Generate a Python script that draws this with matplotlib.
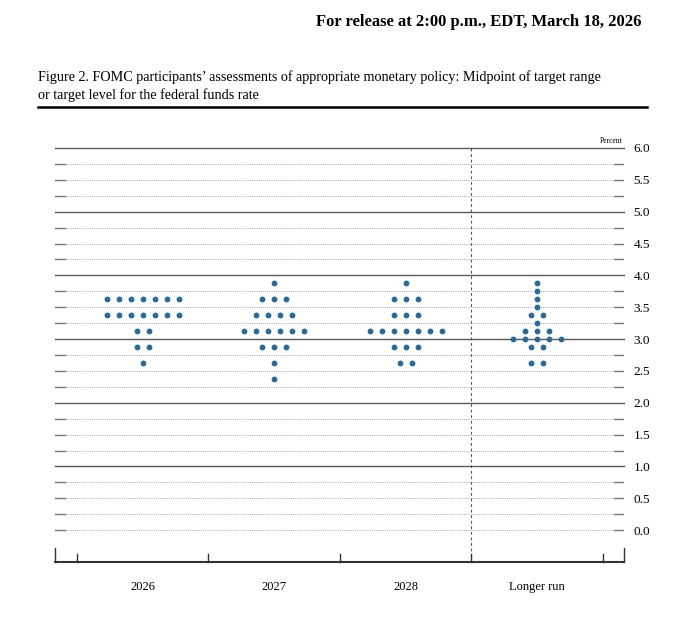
import matplotlib

matplotlib.use("Agg")
import matplotlib.pyplot as plt
import numpy as np

CATEGORIES = ["2026", "2027", "2028", "Longer run"]
# midpoint levels and number of participants at each level
LEVELS_2026 = [3.625, 3.375, 3.125, 2.875, 2.625]
COUNTS_2026 = [7, 7, 2, 2, 1]
LEVELS_2027 = [3.875, 3.625, 3.375, 3.125, 2.875, 2.625, 2.375]
COUNTS_2027 = [1, 3, 4, 6, 3, 1, 1]
LEVELS_2028 = [3.875, 3.625, 3.375, 3.125, 2.875, 2.625]
COUNTS_2028 = [1, 3, 3, 7, 3, 2]
LEVELS_LR = [3.875, 3.75, 3.625, 3.5, 3.375, 3.25, 3.125, 3.0, 2.875, 2.625]
COUNTS_LR = [1, 1, 1, 1, 2, 1, 3, 5, 2, 2]

DOT = "#2b6a94"
SERIF = ["Liberation Serif", "DejaVu Serif"]
plt.rcParams["font.family"] = SERIF

fig = plt.figure(figsize=(6.8, 6.26), dpi=100)
W, H = 680, 626
ax = fig.add_axes([55 / W, 64 / H, 569 / W, 414 / H])
ax.set_xlim(0.333, 4.66)
ax.set_ylim(-0.5, 6.0)
for s in ax.spines.values():
    s.set_visible(False)
ax.set_xticks([])

# grid: solid at whole percents, dotted at quarter steps with short solid ends
yt = ax.get_yaxis_transform()
for lv in np.arange(0, 6.01, 0.25):
    if lv >= 1 and lv % 1 == 0:
        ax.plot([0, 1], [lv, lv], transform=yt, color="#5a5a5a", lw=1.0, clip_on=False, zorder=1)
    else:
        ax.plot([0, 1], [lv, lv], transform=yt, color="#a8a8a8", lw=0.7, ls=(0, (1, 1.2)), zorder=1)
        ax.plot([0, 0.018], [lv, lv], transform=yt, color="#777777", lw=1.0, zorder=1)
        ax.plot([0.982, 1], [lv, lv], transform=yt, color="#777777", lw=1.0, zorder=1)

ax.axvline(3.5, ymin=0, ymax=1, color="#555555", lw=0.8, ls=(0, (2.5, 2.5)), zorder=1)

# bottom axis
xt = ax.get_xaxis_transform()
ax.plot([0, 1], [0, 0], transform=ax.transAxes, color="#333333", lw=1.5, clip_on=False)
for xe in (0, 1):
    ax.plot([xe, xe], [0, 14 / 414], transform=ax.transAxes, color="#333333", lw=1.0, clip_on=False)
for xs in [0.5, 1.5, 2.5, 3.5, 4.5]:
    ax.plot([xs, xs], [0, 8 / 414], transform=xt, color="#333333", lw=1.0, clip_on=False)
for i, c in enumerate(CATEGORIES):
    ax.text(i + 1, -25 / 414, c, transform=xt, ha="center", va="center", fontsize=9)

# right-side y labels
ax.yaxis.tick_right()
ax.set_yticks(np.arange(0, 6.01, 0.5))
ax.set_yticklabels([f"{v:.1f}" for v in np.arange(0, 6.01, 0.5)])
ax.tick_params(axis="y", length=0, pad=7, labelsize=9.5)
ax.text(0.997, 6.05, "Percent", transform=yt, ha="right", va="bottom", fontsize=5.5)

# dots
spacing = 0.0913
groups = [(LEVELS_2026, COUNTS_2026), (LEVELS_2027, COUNTS_2027),
          (LEVELS_2028, COUNTS_2028), (LEVELS_LR, COUNTS_LR)]
for i, (levels, counts) in enumerate(groups):
    xs, ys = [], []
    for lv, n in zip(levels, counts):
        off = (np.arange(n) - (n - 1) / 2) * spacing
        xs.extend(i + 1 + off)
        ys.extend([lv] * n)
    ax.plot(xs, ys, "o", ms=4.2, color=DOT, mec="none", zorder=3)

fig.text(642 / W, 1 - 22 / H, "For release at 2:00 p.m., EDT, March 18, 2026",
         ha="right", va="center", fontsize=12, fontweight="bold")
fig.text(38 / W, 1 - 77 / H,
         "Figure 2. FOMC participants\u2019 assessments of appropriate monetary policy: Midpoint of target range",
         ha="left", va="center", fontsize=10.2)
fig.text(38 / W, 1 - 95 / H, "or target level for the federal funds rate",
         ha="left", va="center", fontsize=10.2)
fig.add_artist(plt.Line2D([38 / W, 647 / W], [1 - 107 / H, 1 - 107 / H],
                          transform=fig.transFigure, color="black", lw=1.8))

fig.savefig("out.png", dpi=100)
